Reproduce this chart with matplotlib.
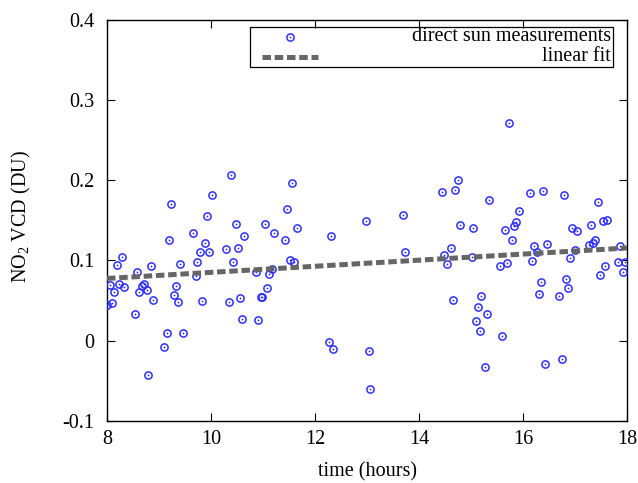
import numpy as np
import matplotlib
matplotlib.use("Agg")
import matplotlib.pyplot as plt
from matplotlib.patches import Rectangle

# direct sun NO2 vertical column densities
morning_time = [10.39, 10.01, 9.23, 9.92, 11.56, 11.47, 10.48, 11.04, 9.66, 11.21,
                9.19, 10.64, 11.43, 9.88, 10.29, 10.52, 9.79, 9.97, 8.28, 8.19,
                8.84, 9.74, 10.43, 9.40, 11.51, 8.58, 9.71, 11.12, 11.17, 10.86,
                8.06, 8.23, 8.33, 8.14, 8.71, 8.67, 8.62, 8.76, 9.32, 11.08,
                9.28, 8.00, 8.10, 8.89, 9.37, 9.83, 10.35, 10.56, 10.96, 10.99,
                8.54, 10.60, 10.91, 9.15, 9.46, 9.10, 8.79, 11.60, 11.65]
morning_vcd = [0.206, 0.182, 0.170, 0.155, 0.197, 0.164, 0.146, 0.145, 0.134, 0.134,
               0.126, 0.131, 0.126, 0.122, 0.114, 0.116, 0.110, 0.111, 0.104, 0.094,
               0.093, 0.098, 0.098, 0.096, 0.101, 0.085, 0.080, 0.083, 0.089, 0.085,
               0.069, 0.0705, 0.067, 0.061, 0.071, 0.0675, 0.061, 0.063, 0.068, 0.066,
               0.057, 0.044, 0.0465, 0.050, 0.0475, 0.049, 0.0475, 0.053, 0.054, 0.054,
               0.033, 0.027, 0.026, 0.010, 0.009, -0.008, -0.0425, 0.0975, 0.1405]

midday_time = [12.31, 12.98, 13.70, 13.74, 12.26, 12.35, 13.03, 13.06]
midday_vcd = [0.130, 0.149, 0.157, 0.110, -0.002, -0.010, -0.013, -0.060]

afternoon_time = [14.44, 14.75, 14.70, 14.79, 15.04, 14.62, 14.49, 14.53, 15.01, 14.66,
                  15.19, 15.13, 15.09, 15.17, 15.74, 15.35, 16.13, 16.39, 16.78, 17.44,
                  15.92, 15.87, 15.83, 15.65, 15.78, 16.95, 17.04, 17.30, 17.53, 17.62,
                  16.21, 16.47, 16.26, 16.17, 15.56, 15.70, 16.90, 16.99, 17.26, 17.35,
                  17.39, 17.87, 17.57, 17.48, 17.83, 17.97, 17.92, 16.35, 16.30, 16.82,
                  16.87, 16.69, 15.31, 15.60, 15.26, 16.43, 16.74]
afternoon_vcd = [0.1855, 0.200, 0.188, 0.144, 0.1405, 0.115, 0.107, 0.095, 0.104, 0.051,
                 0.056, 0.042, 0.024, 0.012, 0.272, 0.175, 0.184, 0.186, 0.182, 0.173,
                 0.162, 0.1475, 0.143, 0.138, 0.126, 0.141, 0.137, 0.144, 0.149, 0.151,
                 0.1175, 0.121, 0.1105, 0.0996, 0.093, 0.097, 0.103, 0.1125, 0.119, 0.122,
                 0.125, 0.1175, 0.093, 0.082, 0.0975, 0.098, 0.0855, 0.073, 0.058, 0.077,
                 0.066, 0.055, 0.033, 0.006, -0.033, -0.029, -0.0225]

# linear fit as drawn in the reference: vcd = slope * t + intercept
fit_slope = 0.0038
fit_intercept = 0.0471
fit_range = [8, 18]

x_ticks = [8, 10, 12, 14, 16, 18]
y_ticks = [-0.1, 0, 0.1, 0.2, 0.3, 0.4]
y_tick_labels = ["-0.1", "0", "0.1", "0.2", "0.3", "0.4"]

plt.rcParams["font.family"] = ["Liberation Serif", "DejaVu Serif"]
plt.rcParams["mathtext.fontset"] = "custom"
plt.rcParams["mathtext.rm"] = "Liberation Serif"
plt.rcParams["font.size"] = 14.5

POINT_COLOR = "#2e2eff"
FIT_COLOR = "#666666"

t = np.array(morning_time + midday_time + afternoon_time)
vcd = np.array(morning_vcd + midday_vcd + afternoon_vcd)

fig = plt.figure(figsize=(6.38, 4.83), dpi=100)
ax = fig.add_axes([0.1677, 0.129, 0.8151, 0.8296])

point_style = dict(ls="none", marker="o", ms=5.2, mfc="none", mec=POINT_COLOR, mew=1.1)
dot_style = dict(ls="none", marker="o", ms=1.3, mfc=POINT_COLOR, mec=POINT_COLOR, mew=0)
fit_style = dict(color=FIT_COLOR, lw=3.6, dashes=(1.7, 0.75), dash_capstyle="butt")

ax.plot(t, vcd, zorder=3, **point_style)
ax.plot(t, vcd, zorder=3, **dot_style)

fx = np.array(fit_range, dtype=float)
ax.plot(fx, fit_slope * fx + fit_intercept, zorder=4, **fit_style)

ax.set_xlim(8, 18)
ax.set_ylim(-0.1, 0.4)
ax.set_xticks(x_ticks)
ax.set_yticks(y_ticks)
ax.set_yticklabels(y_tick_labels)
ax.tick_params(direction="in", length=6, width=0.8, top=True, right=True)
ax.tick_params(axis="x", pad=7)
ax.tick_params(axis="y", pad=9)
for sp in ax.spines.values():
    sp.set_linewidth(1.0)

ax.set_xlabel("time (hours)", labelpad=9.5)
ax.set_ylabel(r"NO$_\mathrm{2}$ VCD (DU)")
ax.yaxis.set_label_coords(-0.142, 0.51)

# gnuplot style key: sample on the left, label right-aligned
ax.add_patch(Rectangle((0.275, 0.8827), 0.6975, 0.1006, transform=ax.transAxes,
                       fill=False, ec="black", lw=0.9, zorder=5))
ax.plot([0.352], [0.9576], transform=ax.transAxes, clip_on=False, zorder=6, **point_style)
ax.plot([0.352], [0.9576], transform=ax.transAxes, clip_on=False, zorder=6, **dot_style)
ax.plot([0.298, 0.406], [0.9077, 0.9077], transform=ax.transAxes, zorder=6, **fit_style)
ax.text(0.969, 0.9576, "direct sun measurements", transform=ax.transAxes,
        ha="right", va="center", zorder=6)
ax.text(0.969, 0.9077, "linear fit", transform=ax.transAxes,
        ha="right", va="center", zorder=6)

fig.savefig("out.png", dpi=100)
plt.close(fig)
